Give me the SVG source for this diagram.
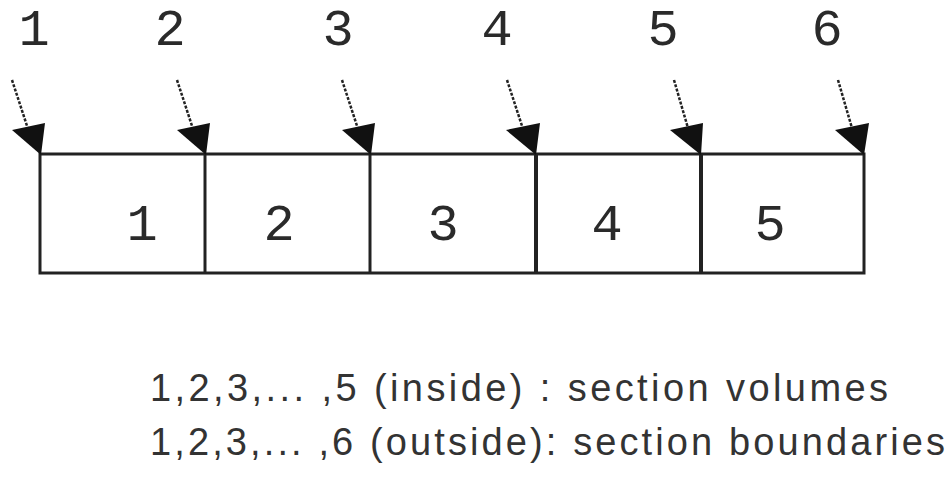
<svg xmlns="http://www.w3.org/2000/svg" width="952" height="488" viewBox="0 0 952 488">
<style>
.num{font-family:"Liberation Mono","Courier New",monospace;font-size:52px;fill:#2a2a2a;text-anchor:middle}
.lg{font-family:"Liberation Sans",Arial,sans-serif;font-size:38px;fill:#333}
.box{fill:none;stroke:#222;stroke-width:3}
.div{stroke:#222;stroke-width:3}
.shaft{stroke:#222;stroke-width:2.5;stroke-dasharray:3 1.5}
.head{fill:#111}
</style>
<rect width="952" height="488" fill="#fff"/>
<g id="sections">
<rect class="box" x="40" y="154" width="824" height="119"/>
<line class="div" x1="205" y1="154" x2="205" y2="273"/>
<line class="div" x1="370" y1="154" x2="370" y2="273"/>
<line class="div" x1="536" y1="154" x2="536" y2="273" style="stroke-width:4"/>
<line class="div" x1="701" y1="154" x2="701" y2="273" style="stroke-width:4"/>
</g>
<g id="volume-1"><text class="num" x="142" y="240">1</text></g>
<g id="volume-2"><text class="num" x="279" y="240">2</text></g>
<g id="volume-3"><text class="num" x="443" y="240">3</text></g>
<g id="volume-4"><text class="num" x="607" y="240">4</text></g>
<g id="volume-5"><text class="num" x="770" y="240">5</text></g>
<g id="boundary-1"><text class="num" x="34" y="45">1</text></g>
<g id="boundary-2"><text class="num" x="170" y="45">2</text></g>
<g id="boundary-3"><text class="num" x="338" y="45">3</text></g>
<g id="boundary-4"><text class="num" x="497" y="45">4</text></g>
<g id="boundary-5"><text class="num" x="663" y="45">5</text></g>
<g id="boundary-6"><text class="num" x="827" y="45">6</text></g>
<g id="connectors">
<line class="shaft" x1="12" y1="80" x2="30" y2="135"/>
<polygon class="head" points="12,130 45,123 41,155"/>
<line class="shaft" x1="177" y1="80" x2="195" y2="135"/>
<polygon class="head" points="177,130 210,123 206,155"/>
<line class="shaft" x1="342" y1="80" x2="360" y2="135"/>
<polygon class="head" points="342,130 375,123 371,155"/>
<line class="shaft" x1="507" y1="80" x2="525" y2="135"/>
<polygon class="head" points="506,130 540,123 536,155"/>
<line class="shaft" x1="674" y1="80" x2="690" y2="135"/>
<polygon class="head" points="670,130 703,123 701,155"/>
<line class="shaft" x1="838" y1="80" x2="854" y2="135"/>
<polygon class="head" points="835,130 869,123 864,155"/>
</g>
<g id="legend">
<text class="lg" x="150" y="401" textLength="738" lengthAdjust="spacing">1,2,3,... ,5 (inside)  : section volumes</text>
<text class="lg" x="150" y="455" textLength="795" lengthAdjust="spacing">1,2,3,... ,6 (outside): section boundaries</text>
</g>
</svg>
